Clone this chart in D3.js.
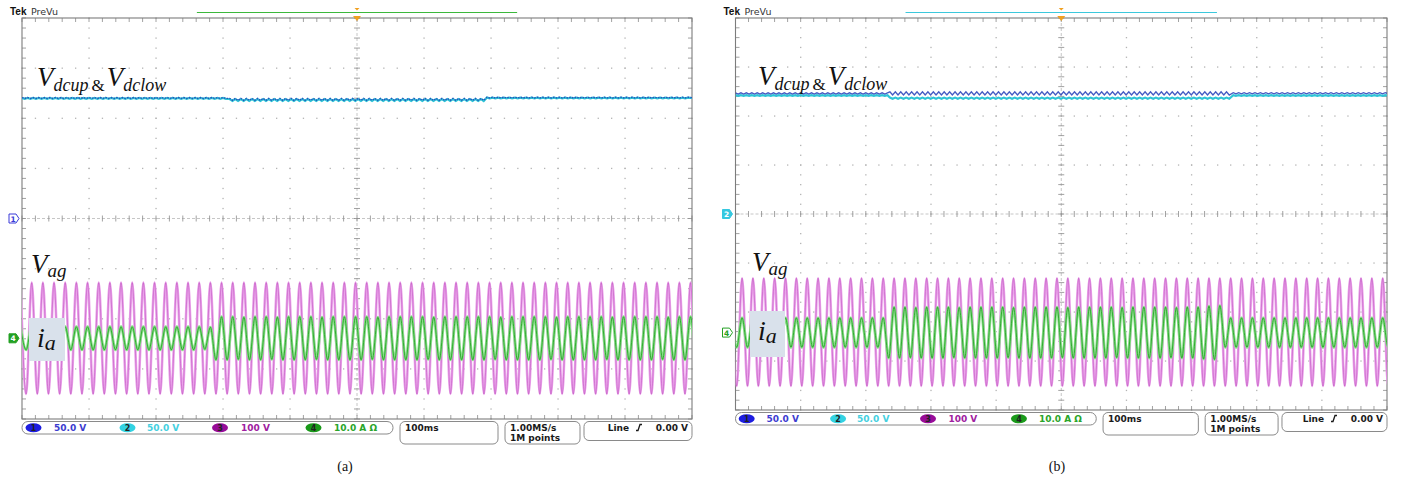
<!DOCTYPE html>
<html><head><meta charset="utf-8">
<script src="https://cdn.jsdelivr.net/npm/d3@7"></script>
<style>body{margin:0;background:#fff}svg{display:block}</style>
</head><body>
<svg id="c" width="1418" height="482"></svg>
<script>
// ================= DATA =================
const captions = ["(a)", "(b)"];
const chScaleLabels = ["50.0 V", "50.0 V", "100 V", "10.0 A \u03A9"];
const timeDivLabel = "100ms";
const acqLabels = ["1.00MS/s", "1M points"];
const trigLabels = ["Line", "0.00", "V"];
const unitsPerDiv = [50, 50, 100, 10];      // ch1..ch4
const lineFreqHz = 60;                      // 60 cycles in 1 s record
const firstPeakA = 0.0145, firstPeakB = 0.0101;   // s

// per-cycle peak amplitudes (cycle 0..60)
const vagAmpA = [111,111,111,111,111,111,111,111,111,111,
                 111,111,111,111,111,111,111,111,111,111,
                 111,111,111,111,111,111,111,111,111,111,
                 111,111,111,111,111,111,111,111,111,111,
                 111,111,111,111,111,111,111,111,111,111,
                 111,111,111,111,111,111,111,111,111,111,111];
const iaAmpA  = [2.3,2.3,2.3,2.3,2.3,2.3,2.3,2.3,2.3,2.3,
                 2.3,2.3,2.3,2.3,2.3,2.3,2.2,4.3,4.3,4.2,
                 4.3,4.3,4.2,4.3,4.3,4.3,4.2,4.3,4.3,4.3,
                 4.3,4.2,4.3,4.3,4.3,4.3,4.2,4.3,4.3,4.3,
                 4.3,4.3,4.2,4.3,4.3,4.3,4.3,4.2,4.3,4.3,
                 4.3,4.3,4.2,4.3,4.3,4.3,4.3,4.2,4.3,4.3,4.3];
const vagAmpB = [110,110,110,110,110,110,110,110,110,110,
                 110,110,110,110,110,110,110,110,110,110,
                 110,110,110,110,110,110,110,110,110,110,
                 110,110,110,110,110,110,110,110,110,110,
                 110,110,110,110,110,110,110,110,110,110,
                 110,110,110,110,110,110,110,110,110,110,110];
const iaAmpB  = [3.0,3.0,3.0,3.0,3.0,3.0,3.0,3.0,3.0,3.0,
                 3.0,3.0,3.0,3.0,5.2,5.2,5.1,5.2,5.2,5.2,
                 5.1,5.2,5.2,5.2,5.2,5.1,5.2,5.2,5.2,5.2,
                 5.1,5.2,5.2,5.2,5.2,5.1,5.2,5.2,5.2,5.2,
                 5.1,5.2,5.2,5.4,5.5,3.0,3.0,3.0,3.0,3.0,
                 3.0,3.0,3.0,3.0,3.0,3.0,3.0,3.0,3.0,3.0,3.0];
// DC link: [start s, end s, mean V, ripple V]
const vdcupA  = [[0,0.31,120.2,0.4],[0.31,0.694,118.8,1.0],[0.694,1,120.6,0.4]];
const vdclowA = [[0,0.31,119.8,0.4],[0.31,0.694,118.2,1.0],[0.694,1,120.2,0.4]];
const vdcupB  = [[0,0.237,123.0,0.6],[0.237,0.764,123.0,1.6],[0.764,1,123.2,0.6]];
const vdclowB = [[0,0.237,120.9,0.4],[0.237,0.764,118.2,0.6],[0.764,1,120.9,0.4]];

// ================= LAYOUT =================
const svg = d3.select("#c");
const panels = [
  {x0:22, x1:692, y0:18, y1:419, off:[0,0,-2.39,-2.39], t0:firstPeakA,
   vag:vagAmpA, ia:iaAmpA, up:vdcupA, low:vdclowA, cap:captions[0], capX:345,
   recColor:"#3cb83c",
   markers:[{n:"1",ch:0,color:"#3a3ad8",fill:false},{n:"4",ch:3,color:"#23a023",fill:true}],
   vdc:{x:37,y:86}, vagL:{x:31,y:273}, iaBox:{x:29,y:318,w:36,h:43}},
  {x0:735.5, x1:1387, y0:18, y1:410, off:[0,0,-2.41,-2.42], t0:firstPeakB,
   vag:vagAmpB, ia:iaAmpB, up:vdcupB, low:vdclowB, cap:captions[1], capX:1057,
   recColor:"#3cc8dc",
   markers:[{n:"2",ch:1,color:"#35c8e0",fill:true},{n:"4",ch:3,color:"#23a023",fill:false}],
   vdc:{x:758,y:85}, vagL:{x:752,y:271}, iaBox:{x:750,y:311,w:35,h:46}}
];
const chTextColor = ["#3c3cd0","#45d0e0","#a020a0","#2aa52a"];
const chBadgeColor = ["#1d1de0","#33d2e2","#980c98","#1a9a1a"];

panels.forEach((P, pi) => {
  const g = svg.append("g");
  const x = d3.scaleLinear().domain([0,1]).range([P.x0,P.x1]);       // seconds
  const y = d3.scaleLinear().domain([-4,4]).range([P.y1,P.y0]);      // divisions
  const xd = d3.scaleLinear().domain([0,10]).range([P.x0,P.x1]);
  const k = (P.x1-P.x0)/670;

  // ---- header ----
  g.append("text").attr("x",P.x0-12).attr("y",15).attr("font-family","Liberation Sans, Arial")
    .attr("font-weight","bold").attr("font-size",10).attr("fill","#111").text("Tek");
  g.append("text").attr("x",P.x0+9).attr("y",15).attr("font-family","DejaVu Sans")
    .attr("font-size",9.5).attr("fill","#333").text("PreVu");
  g.append("line").attr("x1",x(0.261)).attr("x2",x(0.739)).attr("y1",12.5).attr("y2",12.5)
    .attr("stroke",P.recColor).attr("stroke-width",1.2);

  // ---- graticule dots ----
  const dots = [];
  d3.range(1,10).filter(i=>i!==5).forEach(i=>d3.range(0,41).forEach(j=>dots.push([xd(i), y(-4+j/5)])));
  d3.range(1,8).filter(j=>j!==4).forEach(j=>d3.range(0,51).forEach(i=>dots.push([xd(i/5), y(-4+j)])));
  g.append("g").selectAll("rect").data(dots).join("rect")
    .attr("x",d=>d[0]-0.6).attr("y",d=>d[1]-0.6).attr("width",1.3).attr("height",1.3).attr("fill","#b4b4b4");

  // center cross
  g.append("line").attr("x1",P.x0).attr("x2",P.x1).attr("y1",y(0)).attr("y2",y(0))
    .attr("stroke","#b8b8b8").attr("stroke-width",0.8).attr("stroke-dasharray","3,2");
  g.append("line").attr("x1",xd(5)).attr("x2",xd(5)).attr("y1",P.y0).attr("y2",P.y1)
    .attr("stroke","#b8b8b8").attr("stroke-width",0.8).attr("stroke-dasharray","3,2");
  const ticks = [];
  d3.range(0,51).forEach(i=>{ ticks.push([xd(i/5), y(0)-3, xd(i/5), y(0)+3]);
    ticks.push([xd(i/5), P.y0, xd(i/5), P.y0+4]); ticks.push([xd(i/5), P.y1, xd(i/5), P.y1-4]); });
  d3.range(0,41).forEach(j=>{ ticks.push([xd(5)-3, y(-4+j/5), xd(5)+3, y(-4+j/5)]);
    ticks.push([P.x0, y(-4+j/5), P.x0+4, y(-4+j/5)]); ticks.push([P.x1, y(-4+j/5), P.x1-4, y(-4+j/5)]); });
  g.append("g").selectAll("line").data(ticks).join("line")
    .attr("x1",d=>d[0]).attr("y1",d=>d[1]).attr("x2",d=>d[2]).attr("y2",d=>d[3])
    .attr("stroke","#8a8a8a").attr("stroke-width",0.8);
  g.append("rect").attr("x",P.x0).attr("y",P.y0).attr("width",P.x1-P.x0).attr("height",P.y1-P.y0)
    .attr("fill","none").attr("stroke","#7c7c7c").attr("stroke-width",1.1);

  // ---- traces ----
  const clipId = "clip"+pi;
  svg.append("clipPath").attr("id",clipId).append("rect")
    .attr("x",P.x0).attr("y",P.y0).attr("width",P.x1-P.x0).attr("height",P.y1-P.y0);
  const tg = g.append("g").attr("clip-path",`url(#${clipId})`);
  const T = 1/lineFreqHz;
  function sinePts(amps, ch) {
    const pts = [[P.t0 - T, amps[0]]];
    amps.forEach((a,i)=>{ pts.push([P.t0 + i*T - T/2, -a]); pts.push([P.t0 + i*T, a]); });
    return pts.map(d=>[d[0], d[1]/unitsPerDiv[ch] + P.off[ch]]);
  }
  function dcPts(segs, ch) {
    const pts = [];
    segs.forEach(s=>{
      const n = Math.round((s[1]-s[0])*240);
      d3.range(0,n).forEach(i=>pts.push([s[0]+i/240, s[2] + (i%2? -s[3] : s[3])]));
    });
    pts.push([1, segs[segs.length-1][2]]);
    return pts.map(d=>[d[0], d[1]/unitsPerDiv[ch] + P.off[ch]]);
  }
  const line = d3.line().x(d=>x(d[0])).y(d=>y(d[1])).curve(d3.curveMonotoneX);
  const lineL = d3.line().x(d=>x(d[0])).y(d=>y(d[1]));

  // DC link
  tg.append("path").attr("d",lineL(dcPts(P.low,1))).attr("fill","none").attr("stroke","#2ec4d6").attr("stroke-width",2.2);
  tg.append("path").attr("d",lineL(dcPts(P.up,0))).attr("fill","none").attr("stroke","#2440b8")
    .attr("stroke-width",1.4).attr("stroke-dasharray",pi===0?"1.6,1.2":"none").attr("opacity",0.85);
  // Vag
  const vp = line(sinePts(P.vag,2));
  tg.append("path").attr("d",vp).attr("fill","none").attr("stroke","#eba3eb").attr("stroke-width",2.6);
  tg.append("path").attr("d",vp).attr("fill","none").attr("stroke","#b13cb1").attr("stroke-width",0.6).attr("opacity",0.75);
  // ia
  const ip = line(sinePts(P.ia,3));
  tg.append("path").attr("d",ip).attr("fill","none").attr("stroke","#86e086").attr("stroke-width",2.8);
  tg.append("path").attr("d",ip).attr("fill","none").attr("stroke","#229a22").attr("stroke-width",0.9).attr("opacity",0.9);

  // ---- trigger marker ----
  const xc = xd(5);
  g.append("path").attr("d",`M${xc-4},${P.y0-2}L${xc+4},${P.y0-2}L${xc},${P.y0+3}Z`).attr("fill","#f0a020");
  g.append("path").attr("d",`M${xc-2.5},8L${xc+2.5},8L${xc},10.5Z`).attr("fill","#f0a020");

  // ---- channel ground markers ----
  P.markers.forEach(m=>{
    const my = y(P.off[m.ch]), mx = P.x0-3;
    g.append("path").attr("d",`M${mx-10},${my-4.5}H${mx-3}L${mx},${my}L${mx-3},${my+4.5}H${mx-10}Z`)
      .attr("fill",m.fill?m.color:"#fff").attr("stroke",m.color).attr("stroke-width",1);
    g.append("text").attr("x",mx-6).attr("y",my+3).attr("text-anchor","middle")
      .attr("font-family","DejaVu Sans").attr("font-size",7.5).attr("font-weight","bold")
      .attr("fill",m.fill?"#fff":m.color).text(m.n);
  });

  // ---- annotation labels ----
  const serif = "Liberation Serif, Times New Roman, serif";
  const t1 = g.append("text").attr("x",P.vdc.x).attr("y",P.vdc.y).attr("font-family",serif).attr("fill","#111");
  t1.append("tspan").attr("font-size",27).attr("font-style","italic").text("V");
  t1.append("tspan").attr("font-size",18).attr("font-style","italic").attr("dy",5).text("dcup");
  t1.append("tspan").attr("font-size",17).attr("dx",3).text("&");
  t1.append("tspan").attr("font-size",27).attr("font-style","italic").attr("dx",2).attr("dy",-5).text("V");
  t1.append("tspan").attr("font-size",18).attr("font-style","italic").attr("dy",5).text("dclow");
  const t2 = g.append("text").attr("x",P.vagL.x).attr("y",P.vagL.y).attr("font-family",serif).attr("fill","#111");
  t2.append("tspan").attr("font-size",27).attr("font-style","italic").text("V");
  t2.append("tspan").attr("font-size",19).attr("font-style","italic").attr("dy",4).text("ag");
  g.append("rect").attr("x",P.iaBox.x).attr("y",P.iaBox.y).attr("width",P.iaBox.w).attr("height",P.iaBox.h).attr("fill","#d9e1eb");
  const t3 = g.append("text").attr("x",P.iaBox.x+8).attr("y",P.iaBox.y+29).attr("font-family",serif).attr("fill","#111");
  t3.append("tspan").attr("font-size",28).attr("font-style","italic").text("i");
  t3.append("tspan").attr("font-size",22).attr("font-style","italic").attr("dy",3).text("a");

  // ---- status bar ----
  const sy = P.y1 + 2.5, mono = "DejaVu Sans";
  const rx = r => P.x0 + r*k;
  g.append("rect").attr("x",rx(0)).attr("y",sy).attr("width",371*k).attr("height",12.5).attr("rx",6)
    .attr("fill","#fff").attr("stroke","#8a8a8a").attr("stroke-width",1);
  const badgeX = [11.5,105.5,198,291.5], textX = [32,125,219,312];
  chScaleLabels.forEach((lab,i)=>{
    g.append("ellipse").attr("cx",rx(badgeX[i])).attr("cy",sy+6.25).attr("rx",8).attr("ry",4.6).attr("fill",chBadgeColor[i]);
    g.append("text").attr("x",rx(badgeX[i])).attr("y",sy+9.3).attr("text-anchor","middle").attr("font-family",mono)
      .attr("font-size",8).attr("font-weight","bold").attr("fill","#222").text(String(i+1));
    g.append("text").attr("x",rx(textX[i])).attr("y",sy+9.8).attr("font-family",mono).attr("font-size",9)
      .attr("font-weight","bold").attr("fill",chTextColor[i]).text(lab);
  });
  const boxes = [[378,476,22.5],[483,558,22.5],[562,670,19]];
  boxes.forEach(b=>g.append("rect").attr("x",rx(b[0])).attr("y",sy).attr("width",(b[1]-b[0])*k).attr("height",b[2])
    .attr("rx",5).attr("fill","#fff").attr("stroke","#8a8a8a").attr("stroke-width",1));
  const st = (xx,yy,s,anchor)=>g.append("text").attr("x",xx).attr("y",yy).attr("font-family",mono).attr("font-size",9)
    .attr("font-weight","bold").attr("fill","#1a1a1a").attr("text-anchor",anchor||"start").text(s);
  st(rx(378)+5, sy+9.8, timeDivLabel);
  st(rx(483)+5, sy+9.8, acqLabels[0]);
  st(rx(483)+5, sy+19.8, acqLabels[1]);
  st(rx(670)-63, sy+9.8, trigLabels[0], "end");
  const sx = rx(670)-55;
  g.append("path").attr("d",`M${sx-1},${sy+9}L${sx+1},${sy+9}L${sx+3},${sy+3}L${sx+5},${sy+3}`)
    .attr("fill","none").attr("stroke","#1a1a1a").attr("stroke-width",1.3);
  st(rx(670)-14, sy+9.8, trigLabels[1], "end");
  st(rx(670)-4, sy+9.8, trigLabels[2], "end");

  // caption
  g.append("text").attr("x",P.capX).attr("y",471).attr("text-anchor","middle").attr("font-family",serif)
    .attr("font-size",14).attr("fill","#111").text(P.cap);
});
</script>
</body></html>
